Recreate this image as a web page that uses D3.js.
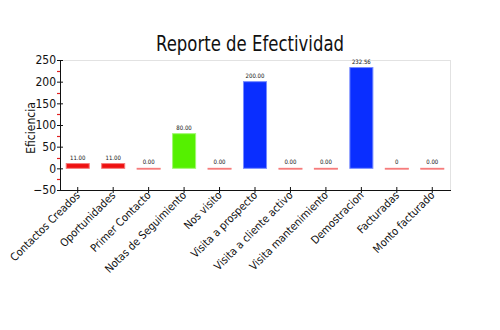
<!DOCTYPE html>
<html>
<head>
<meta charset="utf-8">
<script src="https://d3js.org/d3.v7.min.js"></script>
<style>
  body { margin: 0; background: #fff; }
  svg text { font-family: "DejaVu Sans Condensed", "DejaVu Sans", sans-serif; fill: #111; }
</style>
</head>
<body>
<svg id="chart" width="500" height="330"></svg>
<script>
// Effectiveness report: one bar per activity type
const categories = [
  "Contactos Creados", "Oportunidades", "Primer Contacto", "Notas de Seguimiento",
  "Nos visito", "Visita a prospecto", "Visita a cliente activo", "Visita mantenimiento",
  "Demostracion", "Facturadas", "Monto facturado"
];
const values = [11, 11, 0, 80, 0, 200, 0, 0, 232.56, 0, 0];
const valueLabels = ["11.00", "11.00", "0.00", "80.00", "0.00", "200.00", "0.00", "0.00", "232.56", "0", "0.00"];
const barColors = ["#ee1111", "#ee1111", "#ee1111", "#55f000", "#ee1111", "#0a2eff",
                   "#ee1111", "#ee1111", "#0a2eff", "#ee1111", "#ee1111"];
const yTicks = [-50, 0, 50, 100, 150, 200, 250];
const yMinorTicks = [-25, 25, 75, 125, 175, 225];

const svg = d3.select("#chart");
const plotLeft = 60, plotRight = 450, plotTop = 60, plotBottom = 190;

const x = d3.scaleBand().domain(categories).range([plotLeft, plotRight]).paddingInner(0.35).paddingOuter(0.175);
const y = d3.scaleLinear().domain([-50, 250]).range([plotBottom, plotTop]);

// lighter tint of a bar colour, used for the outline
const tint = c => d3.interpolateRgb(c, "#ffffff")(0.45);

// title
svg.append("text")
  .attr("x", 250).attr("y", 51)
  .attr("text-anchor", "middle")
  .attr("font-size", 21)
  .attr("textLength", 188).attr("lengthAdjust", "spacingAndGlyphs")
  .text("Reporte de Efectividad");

// frame: top gridline and right border
svg.append("line")
  .attr("x1", plotLeft).attr("x2", plotRight).attr("y1", y(250) + 0.5).attr("y2", y(250) + 0.5)
  .attr("stroke", "#e2e2e2").attr("stroke-width", 1);
svg.append("line")
  .attr("x1", plotRight + 0.5).attr("x2", plotRight + 0.5).attr("y1", y(250)).attr("y2", plotBottom)
  .attr("stroke", "#e2e2e2").attr("stroke-width", 1);

// bars (zero values keep a sliver so their outline shows as a thin line)
svg.append("g").selectAll("rect")
  .data(values)
  .join("rect")
  .attr("x", (d, i) => x(categories[i]))
  .attr("width", x.bandwidth())
  .attr("y", d => y(Math.max(d, 0)))
  .attr("height", d => Math.max(Math.abs(y(d) - y(0)), 0.8))
  .attr("fill", (d, i) => d === 0 ? tint(barColors[i]) : barColors[i])
  .attr("stroke", (d, i) => tint(barColors[i]))
  .attr("stroke-width", 1);

// value labels
svg.append("g").selectAll("text")
  .data(values)
  .join("text")
  .attr("x", (d, i) => x(categories[i]) + x.bandwidth() / 2)
  .attr("y", d => y(Math.max(d, 0)) - 4)
  .attr("text-anchor", "middle")
  .attr("font-size", 6)
  .text((d, i) => valueLabels[i]);

// y axis
const yAxis = svg.append("g").attr("transform", `translate(${plotLeft},0)`)
  .call(d3.axisLeft(y).tickValues(yTicks).tickSize(3).tickSizeOuter(0).tickPadding(3));
yAxis.select(".domain").attr("stroke", "#111");
yAxis.selectAll(".tick line").attr("x2", 3).attr("x1", -3).attr("stroke", "#111");
yAxis.selectAll(".tick text").attr("font-size", 12).attr("x", -4);

// red minor ticks
svg.append("g").selectAll("line")
  .data(yMinorTicks)
  .join("line")
  .attr("x1", plotLeft - 3).attr("x2", plotLeft)
  .attr("y1", d => Math.round(y(d)) + 0.5).attr("y2", d => Math.round(y(d)) + 0.5)
  .attr("stroke", "#e02020").attr("stroke-width", 1.2);

// y axis title
svg.append("text")
  .attr("transform", `translate(35,128) rotate(-90)`)
  .attr("text-anchor", "middle")
  .attr("font-size", 12)
  .text("Eficiencia");

// x axis
const xAxis = svg.append("g").attr("transform", `translate(0,${plotBottom})`)
  .call(d3.axisBottom(x).tickSize(3).tickSizeOuter(0));
xAxis.select(".domain").attr("d", `M${plotLeft},0.5H${plotRight + 1}`).attr("stroke", "#111");
xAxis.selectAll(".tick line").attr("y1", -3).attr("y2", 3).attr("stroke", "#111");
xAxis.selectAll(".tick text")
  .attr("font-size", 11)
  .attr("text-anchor", "end")
  .attr("dy", 0)
  .attr("transform", "translate(3,6) rotate(-45)")
  .attr("x", 0).attr("y", 0);
</script>
</body>
</html>
